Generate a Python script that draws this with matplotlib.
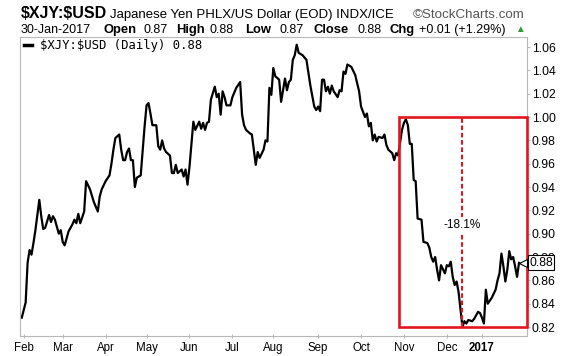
import matplotlib.pyplot as plt
import matplotlib.transforms as mtransforms
from matplotlib.patches import Rectangle

plt.rcParams['font.family'] = ['Liberation Sans', 'DejaVu Sans']
plt.rcParams['text.parse_math'] = False

# trading session number (0 = 29-Jan-2016) and daily close of $XJY:$USD
session = [0, 2, 3, 4, 5, 6, 7, 9, 10, 11, 12, 14, 15, 16, 17, 19, 20, 21, 22, 23, 24, 26, 27, 28, 29, 30,
           32, 33, 35, 37, 39, 40, 41, 43, 45, 46, 47,
           48, 50, 51, 52, 53, 54, 55, 56, 57, 58, 59, 61, 63, 64, 65, 66, 67, 69, 70, 71, 72, 73, 74, 76,
           77, 78, 79, 80, 82, 83, 84, 85, 86, 88, 89, 91, 92, 93, 94, 95, 96, 97, 99, 100, 101, 102, 103, 104,
           105, 107, 108, 110, 112, 113, 114, 115, 117, 118, 119, 120, 121, 122, 124, 125, 126, 127, 128, 129,
           130, 132, 133, 135, 136, 137, 138, 139, 140, 141, 142, 144, 146, 148, 150, 151, 152, 153, 154, 155,
           156, 157, 158, 159, 160, 162, 163, 164, 165, 166, 167, 169, 171, 173, 174, 176, 177, 178, 179, 180,
           181, 182, 183, 185, 186, 187, 188, 190, 191, 192, 193,
           195, 196, 197, 198, 199, 200, 201, 202, 203, 205, 206, 208, 209, 210, 211, 212, 213, 214, 215, 217,
           218, 219, 220, 221, 222, 223, 224, 225, 226, 227, 228, 229, 231, 232, 234, 235, 236, 237, 238, 239,
           241, 243, 244, 245, 246, 247, 248, 249, 250, 251, 252, 253, 254, 255]
close = [0.828, 0.841, 0.875, 0.886, 0.882, 0.892, 0.903, 0.929, 0.915, 0.904, 0.905, 0.916, 0.910, 0.915,
         0.912, 0.900, 0.903, 0.893, 0.890, 0.896, 0.902, 0.908, 0.912, 0.909, 0.917, 0.909,
         0.919, 0.945, 0.938, 0.927, 0.919, 0.932, 0.938, 0.945, 0.950, 0.960, 0.972,
         0.982, 0.985, 0.972, 0.963, 0.963, 0.970, 0.973, 0.963, 0.963, 0.940, 0.948, 0.950, 0.992, 1.010,
         1.012, 1.003, 0.993, 0.993, 0.975, 0.972, 0.980, 0.973, 0.970, 0.967,
         0.952, 0.952, 0.959, 0.952, 0.955, 0.949, 0.955, 0.942, 0.957, 0.996, 0.989, 0.996, 0.990, 0.995,
         0.989, 0.995, 0.996, 1.015, 1.026, 1.017, 1.020, 1.002, 1.022, 1.017,
         1.010, 1.010, 1.017, 1.025, 1.030, 1.002, 0.993, 0.989, 0.986, 0.985, 0.972, 0.959, 0.970, 0.965,
         0.972, 0.980, 0.979, 1.025, 1.019, 1.042,
         1.035, 1.032, 1.013, 1.033, 1.023, 1.030, 1.032, 1.049, 1.053, 1.062, 1.055, 1.053, 1.049, 1.027,
         1.009, 1.006, 1.009, 1.005, 1.032, 1.032,
         1.022, 1.026, 1.020, 1.027, 1.022, 1.017, 1.023, 1.022, 1.039, 1.037, 1.045, 1.043, 1.036, 1.022,
         1.009, 1.000, 1.003, 0.992, 0.995, 0.980,
         0.985, 0.979, 0.983, 0.982, 0.985, 0.976, 0.972, 0.969, 0.963, 0.969, 0.967,
         0.989, 0.995, 0.998, 0.993, 0.977, 0.977, 0.946, 0.945, 0.913, 0.912, 0.893, 0.892, 0.888, 0.880,
         0.876, 0.880, 0.869, 0.860, 0.873, 0.866,
         0.873, 0.872, 0.876, 0.863, 0.856, 0.859, 0.850, 0.835, 0.820, 0.825, 0.823, 0.826, 0.825, 0.827,
         0.833, 0.832, 0.828, 0.823, 0.852, 0.840,
         0.845, 0.852, 0.860, 0.866, 0.883, 0.872, 0.859, 0.869, 0.885, 0.878, 0.880, 0.872, 0.863, 0.875]

month_session = [1, 21, 43, 64, 86, 108, 129, 152, 174, 196, 218, 236]
month_label = ['Feb', 'Mar', 'Apr', 'May', 'Jun', 'Jul', 'Aug', 'Sep', 'Oct', 'Nov', 'Dec', '2017']
y_ticks = [0.82, 0.84, 0.86, 0.88, 0.90, 0.92, 0.94, 0.96, 0.98, 1.00, 1.02, 1.04, 1.06]

drop_start = 193.5      # session where the highlighted box begins
drop_high = 1.00
drop_text = '-18.1%'
last_text = '0.88'

W, H = 576, 356
fig = plt.figure(figsize=(W / 100, H / 100), dpi=100)
ax = fig.add_axes([20 / W, 1 - 336 / H, 507 / W, 299 / H])

ax.plot(session, close, color='black', lw=1.6, solid_joinstyle='round', label='$XJY:$USD (Daily) 0.88')
x_min, x_max = -0.9, 259.1
ax.set_xlim(x_min, x_max)
ax.set_ylim(0.8123, 1.0686)

# highlighted drop after the November peak
low_i = close.index(min(close))
ax.add_patch(Rectangle((drop_start, min(close)), x_max - drop_start, drop_high - min(close),
                       fill=False, ec='#e3161e', lw=1.9, zorder=3, clip_on=False))
ax.plot([session[low_i], session[low_i]], [min(close), drop_high], color='#e3161e', lw=1.5,
        ls=(0, (2.2, 1.3)), zorder=3)
ax.text(session[low_i], 0.9075, drop_text, ha='center', va='center', fontsize=8.5, zorder=4,
        bbox=dict(fc='white', ec='none', pad=1.5))

# axes styling
for sp in ax.spines.values():
    sp.set_color('#b8b8b8')
    sp.set_linewidth(0.8)
ax.yaxis.tick_right()
ax.set_yticks(y_ticks)
ax.set_yticklabels(['%.2f' % v for v in y_ticks])
ax.tick_params(axis='y', length=2, pad=1.5, labelsize=8.8, color='#b8b8b8')
ax.set_xticks(month_session)
ax.set_xticklabels(month_label)
ax.tick_params(axis='x', length=3, direction='inout', pad=2.5, labelsize=8.3, color='#b8b8b8')
ax.get_xticklabels()[-1].set_fontweight('bold')

# last value marker and boxed label
trans = mtransforms.blended_transform_factory(ax.transAxes, ax.transData)
ax.plot([0.993], [close[-1]], transform=trans, marker='<', ms=6, mfc='white', mec='black',
        mew=0.8, clip_on=False, zorder=5)
ax.text(1.004, close[-1], last_text, transform=trans, ha='left', va='center', fontsize=8.8,
        zorder=6, bbox=dict(boxstyle='square,pad=0.12', fc='white', ec='black', lw=0.8))

leg = ax.legend(loc='upper left', bbox_to_anchor=(0, 1.005), frameon=False, handlelength=0.7,
                handletextpad=0.6, borderpad=0.2, borderaxespad=0.1,
                prop={'family': 'DejaVu Sans Mono', 'size': 8.8})
leg.get_lines()[0].set_linewidth(2.5)


def header(x, y, s, **kw):
    fig.text(x / W, 1 - y / H, s, ha='left', va='baseline', **kw)


header(21, 18, '$XJY:$USD', fontsize=11.5, fontweight='bold')
header(110, 18, 'Japanese Yen PHLX/US Dollar (EOD) INDX/ICE', fontsize=9.5)
header(413, 18, '©StockCharts.com', fontsize=9.6, color='#555555')

header(21, 33, '30-Jan-2017', fontsize=9)
for x, s, bold in [(103, 'Open', True), (143, '0.87', False), (176, 'High', True), (209, '0.88', False),
                   (245, 'Low', True), (280, '0.87', False), (313, 'Close', True), (357, '0.88', False),
                   (390, 'Chg', True), (419, '+0.01 (+1.29%)', False)]:
    header(x, 33, s, fontsize=9.4 if bold else 9, fontweight='bold' if bold else 'normal')
header(515, 32, '▲', fontsize=7, color='#2e9e3a')

plt.savefig('out.png', dpi=100)
